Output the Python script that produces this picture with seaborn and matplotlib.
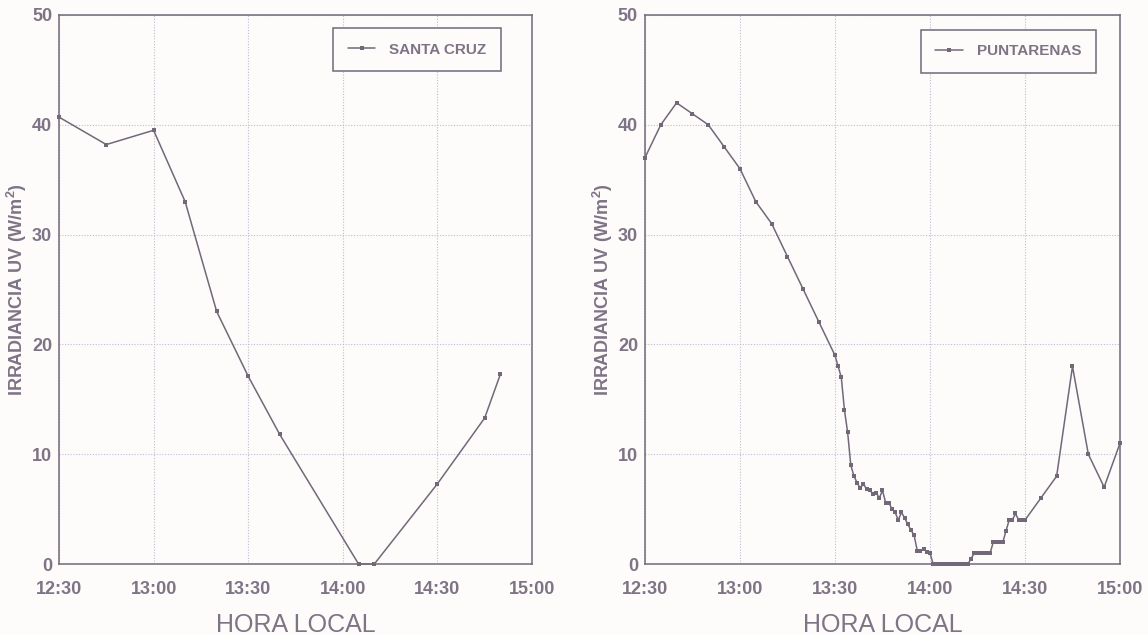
import matplotlib
matplotlib.use("Agg")
import matplotlib.pyplot as plt
import matplotlib.ticker as mticker
import pandas as pd
import seaborn as sns

# --- Santa Cruz -------------------------------------------------------------
santa_cruz_hora = ["12:30", "12:45", "13:00", "13:10", "13:20", "13:30",
                   "13:40", "14:05", "14:10", "14:30", "14:45", "14:50"]
santa_cruz_uv = [40.7, 38.2, 39.5, 33.0, 23.0, 17.1,
                 11.8, 0.0, 0.0, 7.3, 13.3, 17.3]

# --- Puntarenas -------------------------------------------------------------
puntarenas_hora = [
    "12:30", "12:35", "12:40", "12:45", "12:50", "12:55", "13:00", "13:05",
    "13:10", "13:15", "13:20", "13:25", "13:30", "13:31", "13:32", "13:33",
    "13:34", "13:35", "13:36", "13:37", "13:38", "13:39", "13:40", "13:41",
    "13:42", "13:43", "13:44", "13:45", "13:46", "13:47", "13:48", "13:49",
    "13:50", "13:51", "13:52", "13:53", "13:54", "13:55", "13:56", "13:57",
    "13:58", "13:59", "14:00", "14:01", "14:02", "14:03", "14:04", "14:05",
    "14:06", "14:07", "14:08", "14:09", "14:10", "14:11", "14:12", "14:13",
    "14:14", "14:15", "14:16", "14:17", "14:18", "14:19", "14:20", "14:21",
    "14:22", "14:23", "14:24", "14:25", "14:26", "14:27", "14:28", "14:29",
    "14:30", "14:35", "14:40", "14:45", "14:50", "14:55", "15:00",
]
puntarenas_uv = [
    37.0, 40.0, 42.0, 41.0, 40.0, 38.0, 36.0, 33.0,
    31.0, 28.0, 25.0, 22.0, 19.0, 18.0, 17.0, 14.0,
    12.0, 9.0, 8.0, 7.4, 6.9, 7.3, 6.8, 6.7,
    6.4, 6.5, 6.0, 6.7, 5.6, 5.6, 5.0, 4.7,
    4.0, 4.7, 4.2, 3.6, 3.1, 2.6, 1.2, 1.2,
    1.4, 1.1, 1.0, 0.0, 0.0, 0.0, 0.0, 0.0,
    0.0, 0.0, 0.0, 0.0, 0.0, 0.0, 0.0, 0.5,
    1.0, 1.0, 1.0, 1.0, 1.0, 1.0, 2.0, 2.0,
    2.0, 2.0, 3.0, 4.0, 4.0, 4.6, 4.0, 4.0,
    4.0, 6.0, 8.0, 18.0, 10.0, 7.0, 11.0,
]

# --- Axis labels and ticks ---------------------------------------------------
tick_horas = ["12:30", "13:00", "13:30", "14:00", "14:30", "15:00"]
y_ticks = [0, 10, 20, 30, 40, 50]
x_label = "HORA LOCAL"
y_label = "IRRADIANCIA UV (W/m$^{\\mathbf{2}}$)"


def to_minutes(hhmm):
    h, m = hhmm.split(":")
    return int(h) * 60 + int(m)


LINE = "#736879"
TEXT = "#7f7386"
GRID = "#bdbdd2"
PAPER = "#fdfcfa"

sns.set_theme(style="white")
plt.rcParams["font.family"] = ["Liberation Sans", "DejaVu Sans"]
plt.rcParams["mathtext.fontset"] = "custom"
plt.rcParams["mathtext.bf"] = "Liberation Sans:bold"
plt.rcParams["mathtext.rm"] = "Liberation Sans:bold"

fig = plt.figure(figsize=(11.48, 6.35), dpi=100, facecolor=PAPER)
ax_left = fig.add_axes([0.0514, 0.1118, 0.4120, 0.8646])
ax_right = fig.add_axes([0.5618, 0.1118, 0.4138, 0.8646])

panels = [
    (ax_left, santa_cruz_hora, santa_cruz_uv, "SANTA CRUZ", (0.934, 0.976)),
    (ax_right, puntarenas_hora, puntarenas_uv, "PUNTARENAS", (0.949, 0.973)),
]

for ax, horas, uv, nombre, anchor in panels:
    df = pd.DataFrame({"minuto": [to_minutes(h) for h in horas], "uv": uv})
    ax.set_facecolor(PAPER)
    sns.lineplot(data=df, x="minuto", y="uv", ax=ax, estimator=None,
                 color=LINE, linewidth=1.1, marker="s", markersize=3.4,
                 markeredgewidth=0, markerfacecolor=LINE, label=nombre,
                 clip_on=False, zorder=3)

    xt = [to_minutes(h) for h in tick_horas]
    ax.set_xlim(xt[0], xt[-1])
    ax.set_ylim(y_ticks[0], y_ticks[-1])
    ax.xaxis.set_major_locator(mticker.FixedLocator(xt))
    ax.set_xticklabels(tick_horas)
    ax.set_yticks(y_ticks)

    ax.grid(True, linestyle=(0, (1, 1.5)), color=GRID, linewidth=0.8, zorder=0)
    for sp in ax.spines.values():
        sp.set_color(LINE)
        sp.set_linewidth(1.1)
        sp.set_visible(True)

    ax.tick_params(axis="both", length=0, colors=TEXT, labelsize=13)
    ax.tick_params(axis="x", pad=12)
    ax.tick_params(axis="y", pad=5)
    for lbl in ax.get_xticklabels() + ax.get_yticklabels():
        lbl.set_fontweight("bold")

    ax.set_xlabel(x_label, fontsize=18, color=TEXT, labelpad=11)
    ax.set_ylabel(y_label, fontsize=13, color=TEXT, fontweight="bold",
                  labelpad=2)

    leg = ax.legend(loc="upper right", bbox_to_anchor=anchor,
                    borderaxespad=0, frameon=True, fancybox=False,
                    handlelength=1.8, handletextpad=0.9, borderpad=0.95,
                    prop={"family": "Liberation Sans", "weight": "bold",
                          "size": 11})
    frame = leg.get_frame()
    frame.set_edgecolor(LINE)
    frame.set_linewidth(1.1)
    frame.set_facecolor(PAPER)
    frame.set_alpha(1)
    for t in leg.get_texts():
        t.set_color(TEXT)

fig.savefig("out.png", dpi=100, facecolor=PAPER)
